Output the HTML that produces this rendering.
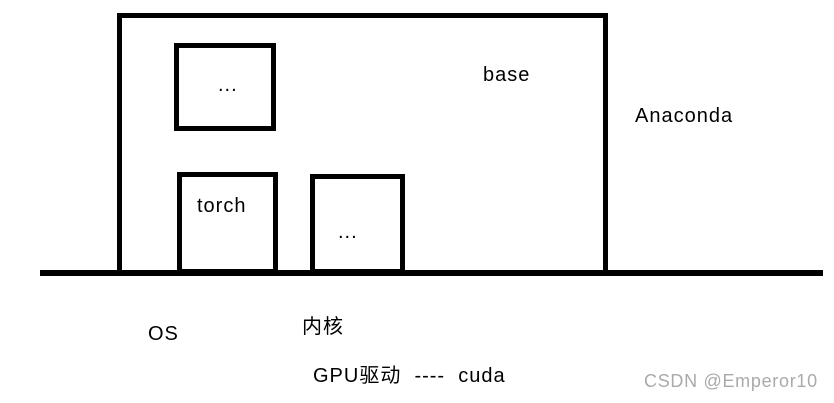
<!DOCTYPE html>
<html><head><meta charset="utf-8"><style>
html,body{margin:0;padding:0;background:#fff}
body{width:834px;height:403px;position:relative;overflow:hidden;font-family:"Liberation Sans","Noto Sans CJK SC",sans-serif;color:#000}
.b{position:absolute;border:5px solid #000;box-sizing:border-box}
.t{position:absolute;font-size:20px;line-height:1;white-space:nowrap;letter-spacing:1px}
</style></head><body>
<div class="b" style="left:117px;top:13px;width:491px;height:262px"></div>
<div class="b" style="left:174px;top:43px;width:102px;height:88px"></div>
<div class="b" style="left:177px;top:172px;width:101px;height:102px"></div>
<div class="b" style="left:310px;top:174px;width:95px;height:100px"></div>
<div style="position:absolute;left:40px;top:270px;width:783px;height:6px;background:#000"></div>
<div class="t" style="left:218px;top:75px">...</div>
<div class="t" style="left:197px;top:196px">torch</div>
<div class="t" style="left:338px;top:222px">...</div>
<div class="t" style="left:483px;top:65px">base</div>
<div class="t" style="left:635px;top:106px">Anaconda</div>
<div class="t" style="left:148px;top:324px">OS</div>
<div class="t" style="left:302px;top:317px">内核</div>
<div class="t" style="left:313px;top:366px">GPU驱动&nbsp; ----&nbsp; cuda</div>
<div class="t" style="left:644px;top:372px;color:#aaa;font-size:18px;letter-spacing:0.7px">CSDN @Emperor10</div>
</body></html>
